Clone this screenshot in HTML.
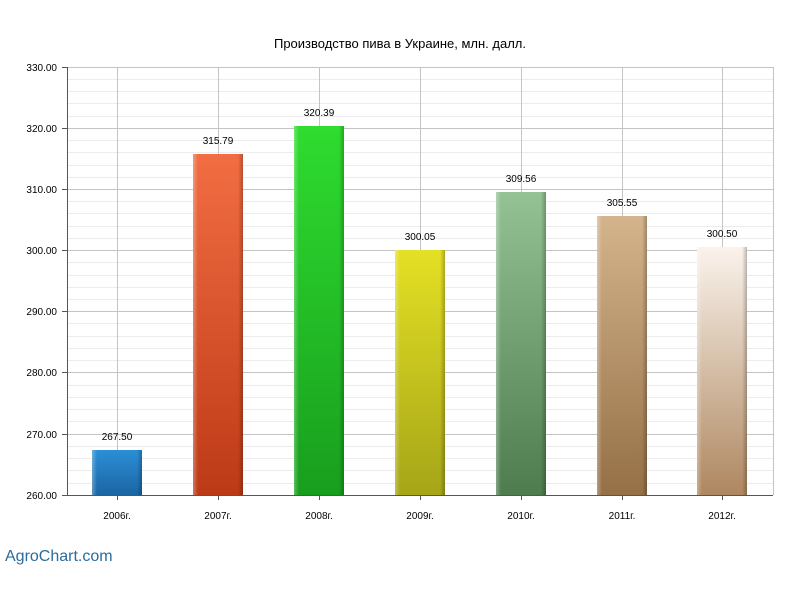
<!DOCTYPE html>
<html><head><meta charset="utf-8"><style>body{margin:0;background:#fff}</style></head>
<body>
<svg width="800" height="600" xmlns="http://www.w3.org/2000/svg" font-family="Liberation Sans, sans-serif">
<defs>
<linearGradient id="g0" x1="0" y1="0" x2="0" y2="1"><stop offset="0" stop-color="#2b8fd6"/><stop offset="1" stop-color="#1b65a3"/></linearGradient>
<linearGradient id="g1" x1="0" y1="0" x2="0" y2="1"><stop offset="0" stop-color="#f26d42"/><stop offset="1" stop-color="#bd3a17"/></linearGradient>
<linearGradient id="g2" x1="0" y1="0" x2="0" y2="1"><stop offset="0" stop-color="#2fdc2f"/><stop offset="1" stop-color="#189e1e"/></linearGradient>
<linearGradient id="g3" x1="0" y1="0" x2="0" y2="1"><stop offset="0" stop-color="#e4e024"/><stop offset="1" stop-color="#a5a518"/></linearGradient>
<linearGradient id="g4" x1="0" y1="0" x2="0" y2="1"><stop offset="0" stop-color="#94c294"/><stop offset="1" stop-color="#4e7c4e"/></linearGradient>
<linearGradient id="g5" x1="0" y1="0" x2="0" y2="1"><stop offset="0" stop-color="#d4b48c"/><stop offset="1" stop-color="#957046"/></linearGradient>
<linearGradient id="g6" x1="0" y1="0" x2="0" y2="1"><stop offset="0" stop-color="#faf3ec"/><stop offset="1" stop-color="#ae8760"/></linearGradient>
<linearGradient id="sh" x1="0" y1="0" x2="1" y2="0"><stop offset="0" stop-color="#fff" stop-opacity="0.3"/><stop offset="0.1" stop-color="#fff" stop-opacity="0"/><stop offset="0.9" stop-color="#000" stop-opacity="0"/><stop offset="1" stop-color="#000" stop-opacity="0.25"/></linearGradient>
</defs>
<text x="400" y="48" font-size="13" text-anchor="middle" fill="#000">Производство пива в Украине, млн. далл.</text>
<g stroke="#ececec" stroke-width="1">
<line x1="67" x2="773" y1="79.5" y2="79.5"/><line x1="67" x2="773" y1="91.5" y2="91.5"/><line x1="67" x2="773" y1="103.5" y2="103.5"/><line x1="67" x2="773" y1="116.5" y2="116.5"/>
<line x1="67" x2="773" y1="140.5" y2="140.5"/><line x1="67" x2="773" y1="152.5" y2="152.5"/><line x1="67" x2="773" y1="165.5" y2="165.5"/><line x1="67" x2="773" y1="177.5" y2="177.5"/>
<line x1="67" x2="773" y1="201.5" y2="201.5"/><line x1="67" x2="773" y1="213.5" y2="213.5"/><line x1="67" x2="773" y1="226.5" y2="226.5"/><line x1="67" x2="773" y1="238.5" y2="238.5"/>
<line x1="67" x2="773" y1="262.5" y2="262.5"/><line x1="67" x2="773" y1="275.5" y2="275.5"/><line x1="67" x2="773" y1="287.5" y2="287.5"/><line x1="67" x2="773" y1="299.5" y2="299.5"/>
<line x1="67" x2="773" y1="323.5" y2="323.5"/><line x1="67" x2="773" y1="336.5" y2="336.5"/><line x1="67" x2="773" y1="348.5" y2="348.5"/><line x1="67" x2="773" y1="360.5" y2="360.5"/>
<line x1="67" x2="773" y1="385.5" y2="385.5"/><line x1="67" x2="773" y1="397.5" y2="397.5"/><line x1="67" x2="773" y1="409.5" y2="409.5"/><line x1="67" x2="773" y1="421.5" y2="421.5"/>
<line x1="67" x2="773" y1="446.5" y2="446.5"/><line x1="67" x2="773" y1="458.5" y2="458.5"/><line x1="67" x2="773" y1="470.5" y2="470.5"/><line x1="67" x2="773" y1="483.5" y2="483.5"/>
</g>
<g stroke="#c4c4c4" stroke-width="1">
<line x1="67" x2="773" y1="67.5" y2="67.5"/><line x1="67" x2="773" y1="128.5" y2="128.5"/><line x1="67" x2="773" y1="189.5" y2="189.5"/><line x1="67" x2="773" y1="250.5" y2="250.5"/><line x1="67" x2="773" y1="311.5" y2="311.5"/><line x1="67" x2="773" y1="372.5" y2="372.5"/><line x1="67" x2="773" y1="434.5" y2="434.5"/>
<line x1="117.5" x2="117.5" y1="67" y2="495"/><line x1="218.5" x2="218.5" y1="67" y2="495"/><line x1="319.5" x2="319.5" y1="67" y2="495"/><line x1="420.5" x2="420.5" y1="67" y2="495"/><line x1="521.5" x2="521.5" y1="67" y2="495"/><line x1="622.5" x2="622.5" y1="67" y2="495"/><line x1="722.5" x2="722.5" y1="67" y2="495"/><line x1="773.5" x2="773.5" y1="67" y2="495"/>
</g>
<g>
<rect x="92" y="450" width="50" height="45" fill="url(#g0)"/><rect x="92" y="450" width="50" height="45" fill="url(#sh)"/>
<rect x="193" y="154" width="50" height="341" fill="url(#g1)"/><rect x="193" y="154" width="50" height="341" fill="url(#sh)"/>
<rect x="294" y="126" width="50" height="369" fill="url(#g2)"/><rect x="294" y="126" width="50" height="369" fill="url(#sh)"/>
<rect x="395" y="250" width="50" height="245" fill="url(#g3)"/><rect x="395" y="250" width="50" height="245" fill="url(#sh)"/>
<rect x="496" y="192" width="50" height="303" fill="url(#g4)"/><rect x="496" y="192" width="50" height="303" fill="url(#sh)"/>
<rect x="597" y="216" width="50" height="279" fill="url(#g5)"/><rect x="597" y="216" width="50" height="279" fill="url(#sh)"/>
<rect x="697" y="247" width="50" height="248" fill="url(#g6)"/><rect x="697" y="247" width="50" height="248" fill="url(#sh)"/>
</g>
<g stroke="#555" stroke-width="1">
<line x1="67.5" x2="67.5" y1="67" y2="495"/><line x1="62" x2="773" y1="495.5" y2="495.5"/>
<line x1="62" x2="67" y1="67.5" y2="67.5"/><line x1="62" x2="67" y1="128.5" y2="128.5"/><line x1="62" x2="67" y1="189.5" y2="189.5"/><line x1="62" x2="67" y1="250.5" y2="250.5"/><line x1="62" x2="67" y1="311.5" y2="311.5"/><line x1="62" x2="67" y1="372.5" y2="372.5"/><line x1="62" x2="67" y1="434.5" y2="434.5"/>
<line x1="117.5" x2="117.5" y1="495" y2="500"/><line x1="218.5" x2="218.5" y1="495" y2="500"/><line x1="319.5" x2="319.5" y1="495" y2="500"/><line x1="420.5" x2="420.5" y1="495" y2="500"/><line x1="521.5" x2="521.5" y1="495" y2="500"/><line x1="622.5" x2="622.5" y1="495" y2="500"/><line x1="722.5" x2="722.5" y1="495" y2="500"/>
</g>
<g font-size="10" fill="#000" text-anchor="end">
<text x="57" y="71">330.00</text><text x="57" y="132">320.00</text><text x="57" y="193">310.00</text><text x="57" y="254">300.00</text><text x="57" y="315">290.00</text><text x="57" y="376">280.00</text><text x="57" y="438">270.00</text><text x="57" y="499">260.00</text>
</g>
<g font-size="10" fill="#000" text-anchor="middle">
<text x="117" y="519">2006г.</text><text x="218" y="519">2007г.</text><text x="319" y="519">2008г.</text><text x="420" y="519">2009г.</text><text x="521" y="519">2010г.</text><text x="622" y="519">2011г.</text><text x="722" y="519">2012г.</text>
<text x="117" y="440">267.50</text><text x="218" y="144">315.79</text><text x="319" y="116">320.39</text><text x="420" y="240">300.05</text><text x="521" y="182">309.56</text><text x="622" y="206">305.55</text><text x="722" y="237">300.50</text>
</g>
<text x="5" y="561" font-size="16" fill="#2a6c9c">AgroChart.com</text>
</svg>
</body></html>
